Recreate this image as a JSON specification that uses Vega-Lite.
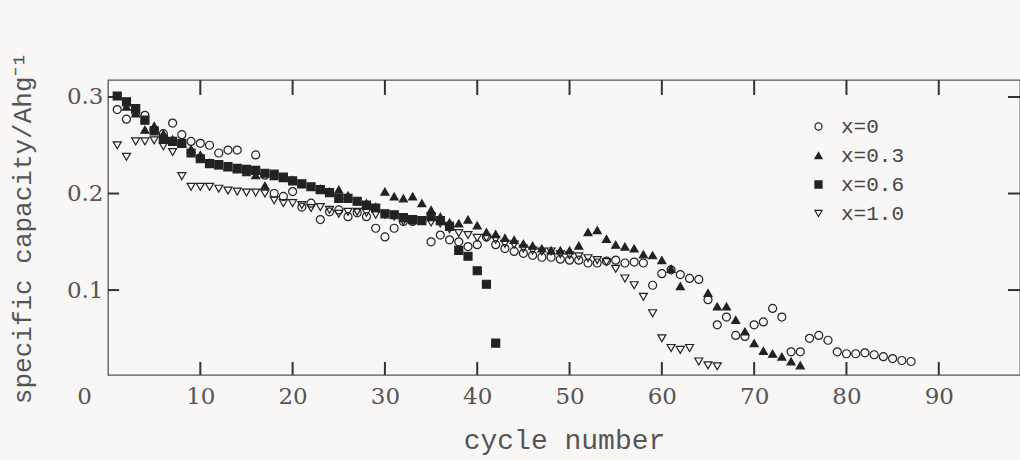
{
  "$schema": "https://vega.github.io/schema/vega-lite/v6.json",
  "width": 912,
  "height": 295,
  "autosize": "none",
  "padding": {"left": 108, "top": 80, "right": 0, "bottom": 85},
  "background": "#f8f7f5",
  "config": {
    "view": {"stroke": "#555", "strokeWidth": 1.3},
    "axis": {"grid": false, "domain": false, "ticks": false,
      "labelFlush": false,
      "labelFont": "DejaVu Serif", "labelFontSize": 23, "labelColor": "#555",
      "titleFont": "Liberation Mono", "titleFontWeight": "normal", "titleColor": "#555"}
  },
  "datasets": {
    "xticks": [{"cycle": 10}, {"cycle": 20}, {"cycle": 30}, {"cycle": 40}, {"cycle": 50}, {"cycle": 60}, {"cycle": 70}, {"cycle": 80}, {"cycle": 90}],
    "yticks": [{"cap": 0.1}, {"cap": 0.2}, {"cap": 0.3}],
    "points": [
    {"cycle": 1, "cap": 0.287, "series": "x=0"},
    {"cycle": 2, "cap": 0.277, "series": "x=0"},
    {"cycle": 3, "cap": 0.284, "series": "x=0"},
    {"cycle": 4, "cap": 0.281, "series": "x=0"},
    {"cycle": 5, "cap": 0.266, "series": "x=0"},
    {"cycle": 6, "cap": 0.262, "series": "x=0"},
    {"cycle": 7, "cap": 0.273, "series": "x=0"},
    {"cycle": 8, "cap": 0.261, "series": "x=0"},
    {"cycle": 9, "cap": 0.254, "series": "x=0"},
    {"cycle": 10, "cap": 0.252, "series": "x=0"},
    {"cycle": 11, "cap": 0.25, "series": "x=0"},
    {"cycle": 12, "cap": 0.242, "series": "x=0"},
    {"cycle": 13, "cap": 0.245, "series": "x=0"},
    {"cycle": 14, "cap": 0.245, "series": "x=0"},
    {"cycle": 16, "cap": 0.24, "series": "x=0"},
    {"cycle": 17, "cap": 0.219, "series": "x=0"},
    {"cycle": 18, "cap": 0.2, "series": "x=0"},
    {"cycle": 19, "cap": 0.197, "series": "x=0"},
    {"cycle": 20, "cap": 0.202, "series": "x=0"},
    {"cycle": 21, "cap": 0.186, "series": "x=0"},
    {"cycle": 22, "cap": 0.19, "series": "x=0"},
    {"cycle": 23, "cap": 0.173, "series": "x=0"},
    {"cycle": 24, "cap": 0.181, "series": "x=0"},
    {"cycle": 25, "cap": 0.183, "series": "x=0"},
    {"cycle": 26, "cap": 0.176, "series": "x=0"},
    {"cycle": 27, "cap": 0.18, "series": "x=0"},
    {"cycle": 28, "cap": 0.176, "series": "x=0"},
    {"cycle": 29, "cap": 0.164, "series": "x=0"},
    {"cycle": 30, "cap": 0.155, "series": "x=0"},
    {"cycle": 31, "cap": 0.164, "series": "x=0"},
    {"cycle": 32, "cap": 0.171, "series": "x=0"},
    {"cycle": 33, "cap": 0.171, "series": "x=0"},
    {"cycle": 35, "cap": 0.15, "series": "x=0"},
    {"cycle": 36, "cap": 0.157, "series": "x=0"},
    {"cycle": 37, "cap": 0.152, "series": "x=0"},
    {"cycle": 38, "cap": 0.15, "series": "x=0"},
    {"cycle": 39, "cap": 0.145, "series": "x=0"},
    {"cycle": 40, "cap": 0.147, "series": "x=0"},
    {"cycle": 41, "cap": 0.155, "series": "x=0"},
    {"cycle": 42, "cap": 0.147, "series": "x=0"},
    {"cycle": 43, "cap": 0.143, "series": "x=0"},
    {"cycle": 44, "cap": 0.14, "series": "x=0"},
    {"cycle": 45, "cap": 0.138, "series": "x=0"},
    {"cycle": 46, "cap": 0.136, "series": "x=0"},
    {"cycle": 47, "cap": 0.134, "series": "x=0"},
    {"cycle": 48, "cap": 0.134, "series": "x=0"},
    {"cycle": 49, "cap": 0.132, "series": "x=0"},
    {"cycle": 50, "cap": 0.131, "series": "x=0"},
    {"cycle": 51, "cap": 0.131, "series": "x=0"},
    {"cycle": 52, "cap": 0.128, "series": "x=0"},
    {"cycle": 53, "cap": 0.128, "series": "x=0"},
    {"cycle": 54, "cap": 0.13, "series": "x=0"},
    {"cycle": 55, "cap": 0.131, "series": "x=0"},
    {"cycle": 56, "cap": 0.128, "series": "x=0"},
    {"cycle": 57, "cap": 0.129, "series": "x=0"},
    {"cycle": 58, "cap": 0.128, "series": "x=0"},
    {"cycle": 59, "cap": 0.105, "series": "x=0"},
    {"cycle": 60, "cap": 0.117, "series": "x=0"},
    {"cycle": 61, "cap": 0.121, "series": "x=0"},
    {"cycle": 62, "cap": 0.116, "series": "x=0"},
    {"cycle": 63, "cap": 0.112, "series": "x=0"},
    {"cycle": 64, "cap": 0.111, "series": "x=0"},
    {"cycle": 65, "cap": 0.09, "series": "x=0"},
    {"cycle": 66, "cap": 0.064, "series": "x=0"},
    {"cycle": 67, "cap": 0.072, "series": "x=0"},
    {"cycle": 68, "cap": 0.053, "series": "x=0"},
    {"cycle": 69, "cap": 0.052, "series": "x=0"},
    {"cycle": 70, "cap": 0.064, "series": "x=0"},
    {"cycle": 71, "cap": 0.067, "series": "x=0"},
    {"cycle": 72, "cap": 0.081, "series": "x=0"},
    {"cycle": 73, "cap": 0.072, "series": "x=0"},
    {"cycle": 74, "cap": 0.036, "series": "x=0"},
    {"cycle": 75, "cap": 0.036, "series": "x=0"},
    {"cycle": 76, "cap": 0.05, "series": "x=0"},
    {"cycle": 77, "cap": 0.053, "series": "x=0"},
    {"cycle": 78, "cap": 0.048, "series": "x=0"},
    {"cycle": 79, "cap": 0.036, "series": "x=0"},
    {"cycle": 80, "cap": 0.034, "series": "x=0"},
    {"cycle": 81, "cap": 0.034, "series": "x=0"},
    {"cycle": 82, "cap": 0.035, "series": "x=0"},
    {"cycle": 83, "cap": 0.033, "series": "x=0"},
    {"cycle": 84, "cap": 0.031, "series": "x=0"},
    {"cycle": 85, "cap": 0.029, "series": "x=0"},
    {"cycle": 86, "cap": 0.027, "series": "x=0"},
    {"cycle": 87, "cap": 0.026, "series": "x=0"},
    {"cycle": 2, "cap": 0.29, "series": "x=0.3"},
    {"cycle": 3, "cap": 0.283, "series": "x=0.3"},
    {"cycle": 4, "cap": 0.266, "series": "x=0.3"},
    {"cycle": 5, "cap": 0.27, "series": "x=0.3"},
    {"cycle": 6, "cap": 0.262, "series": "x=0.3"},
    {"cycle": 7, "cap": 0.256, "series": "x=0.3"},
    {"cycle": 8, "cap": 0.252, "series": "x=0.3"},
    {"cycle": 9, "cap": 0.246, "series": "x=0.3"},
    {"cycle": 10, "cap": 0.24, "series": "x=0.3"},
    {"cycle": 11, "cap": 0.232, "series": "x=0.3"},
    {"cycle": 12, "cap": 0.229, "series": "x=0.3"},
    {"cycle": 13, "cap": 0.227, "series": "x=0.3"},
    {"cycle": 14, "cap": 0.225, "series": "x=0.3"},
    {"cycle": 15, "cap": 0.222, "series": "x=0.3"},
    {"cycle": 16, "cap": 0.219, "series": "x=0.3"},
    {"cycle": 17, "cap": 0.208, "series": "x=0.3"},
    {"cycle": 18, "cap": 0.218, "series": "x=0.3"},
    {"cycle": 19, "cap": 0.216, "series": "x=0.3"},
    {"cycle": 20, "cap": 0.214, "series": "x=0.3"},
    {"cycle": 21, "cap": 0.21, "series": "x=0.3"},
    {"cycle": 22, "cap": 0.207, "series": "x=0.3"},
    {"cycle": 23, "cap": 0.205, "series": "x=0.3"},
    {"cycle": 24, "cap": 0.202, "series": "x=0.3"},
    {"cycle": 25, "cap": 0.204, "series": "x=0.3"},
    {"cycle": 26, "cap": 0.198, "series": "x=0.3"},
    {"cycle": 27, "cap": 0.192, "series": "x=0.3"},
    {"cycle": 28, "cap": 0.19, "series": "x=0.3"},
    {"cycle": 29, "cap": 0.186, "series": "x=0.3"},
    {"cycle": 30, "cap": 0.202, "series": "x=0.3"},
    {"cycle": 31, "cap": 0.197, "series": "x=0.3"},
    {"cycle": 32, "cap": 0.195, "series": "x=0.3"},
    {"cycle": 33, "cap": 0.197, "series": "x=0.3"},
    {"cycle": 34, "cap": 0.19, "series": "x=0.3"},
    {"cycle": 35, "cap": 0.183, "series": "x=0.3"},
    {"cycle": 36, "cap": 0.176, "series": "x=0.3"},
    {"cycle": 37, "cap": 0.17, "series": "x=0.3"},
    {"cycle": 38, "cap": 0.169, "series": "x=0.3"},
    {"cycle": 39, "cap": 0.173, "series": "x=0.3"},
    {"cycle": 40, "cap": 0.167, "series": "x=0.3"},
    {"cycle": 41, "cap": 0.16, "series": "x=0.3"},
    {"cycle": 42, "cap": 0.158, "series": "x=0.3"},
    {"cycle": 43, "cap": 0.154, "series": "x=0.3"},
    {"cycle": 44, "cap": 0.152, "series": "x=0.3"},
    {"cycle": 45, "cap": 0.148, "series": "x=0.3"},
    {"cycle": 46, "cap": 0.146, "series": "x=0.3"},
    {"cycle": 47, "cap": 0.143, "series": "x=0.3"},
    {"cycle": 48, "cap": 0.141, "series": "x=0.3"},
    {"cycle": 49, "cap": 0.141, "series": "x=0.3"},
    {"cycle": 50, "cap": 0.141, "series": "x=0.3"},
    {"cycle": 51, "cap": 0.146, "series": "x=0.3"},
    {"cycle": 52, "cap": 0.16, "series": "x=0.3"},
    {"cycle": 53, "cap": 0.162, "series": "x=0.3"},
    {"cycle": 54, "cap": 0.153, "series": "x=0.3"},
    {"cycle": 55, "cap": 0.147, "series": "x=0.3"},
    {"cycle": 56, "cap": 0.145, "series": "x=0.3"},
    {"cycle": 57, "cap": 0.143, "series": "x=0.3"},
    {"cycle": 58, "cap": 0.137, "series": "x=0.3"},
    {"cycle": 59, "cap": 0.136, "series": "x=0.3"},
    {"cycle": 60, "cap": 0.131, "series": "x=0.3"},
    {"cycle": 61, "cap": 0.122, "series": "x=0.3"},
    {"cycle": 62, "cap": 0.104, "series": "x=0.3"},
    {"cycle": 65, "cap": 0.097, "series": "x=0.3"},
    {"cycle": 66, "cap": 0.083, "series": "x=0.3"},
    {"cycle": 67, "cap": 0.083, "series": "x=0.3"},
    {"cycle": 68, "cap": 0.069, "series": "x=0.3"},
    {"cycle": 69, "cap": 0.057, "series": "x=0.3"},
    {"cycle": 70, "cap": 0.045, "series": "x=0.3"},
    {"cycle": 71, "cap": 0.037, "series": "x=0.3"},
    {"cycle": 72, "cap": 0.034, "series": "x=0.3"},
    {"cycle": 73, "cap": 0.031, "series": "x=0.3"},
    {"cycle": 74, "cap": 0.026, "series": "x=0.3"},
    {"cycle": 75, "cap": 0.022, "series": "x=0.3"},
    {"cycle": 1, "cap": 0.301, "series": "x=0.6"},
    {"cycle": 2, "cap": 0.295, "series": "x=0.6"},
    {"cycle": 3, "cap": 0.288, "series": "x=0.6"},
    {"cycle": 4, "cap": 0.276, "series": "x=0.6"},
    {"cycle": 5, "cap": 0.265, "series": "x=0.6"},
    {"cycle": 6, "cap": 0.256, "series": "x=0.6"},
    {"cycle": 7, "cap": 0.254, "series": "x=0.6"},
    {"cycle": 8, "cap": 0.252, "series": "x=0.6"},
    {"cycle": 9, "cap": 0.242, "series": "x=0.6"},
    {"cycle": 10, "cap": 0.236, "series": "x=0.6"},
    {"cycle": 11, "cap": 0.231, "series": "x=0.6"},
    {"cycle": 12, "cap": 0.23, "series": "x=0.6"},
    {"cycle": 13, "cap": 0.228, "series": "x=0.6"},
    {"cycle": 14, "cap": 0.226, "series": "x=0.6"},
    {"cycle": 15, "cap": 0.225, "series": "x=0.6"},
    {"cycle": 16, "cap": 0.224, "series": "x=0.6"},
    {"cycle": 17, "cap": 0.221, "series": "x=0.6"},
    {"cycle": 18, "cap": 0.22, "series": "x=0.6"},
    {"cycle": 19, "cap": 0.217, "series": "x=0.6"},
    {"cycle": 20, "cap": 0.213, "series": "x=0.6"},
    {"cycle": 21, "cap": 0.21, "series": "x=0.6"},
    {"cycle": 22, "cap": 0.207, "series": "x=0.6"},
    {"cycle": 23, "cap": 0.204, "series": "x=0.6"},
    {"cycle": 24, "cap": 0.201, "series": "x=0.6"},
    {"cycle": 25, "cap": 0.195, "series": "x=0.6"},
    {"cycle": 26, "cap": 0.195, "series": "x=0.6"},
    {"cycle": 27, "cap": 0.192, "series": "x=0.6"},
    {"cycle": 28, "cap": 0.188, "series": "x=0.6"},
    {"cycle": 29, "cap": 0.185, "series": "x=0.6"},
    {"cycle": 30, "cap": 0.179, "series": "x=0.6"},
    {"cycle": 31, "cap": 0.178, "series": "x=0.6"},
    {"cycle": 32, "cap": 0.175, "series": "x=0.6"},
    {"cycle": 33, "cap": 0.173, "series": "x=0.6"},
    {"cycle": 34, "cap": 0.172, "series": "x=0.6"},
    {"cycle": 35, "cap": 0.176, "series": "x=0.6"},
    {"cycle": 36, "cap": 0.172, "series": "x=0.6"},
    {"cycle": 37, "cap": 0.166, "series": "x=0.6"},
    {"cycle": 38, "cap": 0.141, "series": "x=0.6"},
    {"cycle": 39, "cap": 0.135, "series": "x=0.6"},
    {"cycle": 40, "cap": 0.12, "series": "x=0.6"},
    {"cycle": 41, "cap": 0.106, "series": "x=0.6"},
    {"cycle": 42, "cap": 0.045, "series": "x=0.6"},
    {"cycle": 1, "cap": 0.25, "series": "x=1.0"},
    {"cycle": 2, "cap": 0.238, "series": "x=1.0"},
    {"cycle": 3, "cap": 0.254, "series": "x=1.0"},
    {"cycle": 4, "cap": 0.254, "series": "x=1.0"},
    {"cycle": 5, "cap": 0.255, "series": "x=1.0"},
    {"cycle": 6, "cap": 0.249, "series": "x=1.0"},
    {"cycle": 7, "cap": 0.243, "series": "x=1.0"},
    {"cycle": 8, "cap": 0.218, "series": "x=1.0"},
    {"cycle": 9, "cap": 0.207, "series": "x=1.0"},
    {"cycle": 10, "cap": 0.207, "series": "x=1.0"},
    {"cycle": 11, "cap": 0.207, "series": "x=1.0"},
    {"cycle": 12, "cap": 0.205, "series": "x=1.0"},
    {"cycle": 13, "cap": 0.203, "series": "x=1.0"},
    {"cycle": 14, "cap": 0.202, "series": "x=1.0"},
    {"cycle": 15, "cap": 0.201, "series": "x=1.0"},
    {"cycle": 16, "cap": 0.201, "series": "x=1.0"},
    {"cycle": 17, "cap": 0.2, "series": "x=1.0"},
    {"cycle": 18, "cap": 0.193, "series": "x=1.0"},
    {"cycle": 19, "cap": 0.19, "series": "x=1.0"},
    {"cycle": 20, "cap": 0.19, "series": "x=1.0"},
    {"cycle": 21, "cap": 0.188, "series": "x=1.0"},
    {"cycle": 22, "cap": 0.185, "series": "x=1.0"},
    {"cycle": 23, "cap": 0.186, "series": "x=1.0"},
    {"cycle": 24, "cap": 0.183, "series": "x=1.0"},
    {"cycle": 25, "cap": 0.179, "series": "x=1.0"},
    {"cycle": 26, "cap": 0.181, "series": "x=1.0"},
    {"cycle": 27, "cap": 0.181, "series": "x=1.0"},
    {"cycle": 28, "cap": 0.18, "series": "x=1.0"},
    {"cycle": 29, "cap": 0.178, "series": "x=1.0"},
    {"cycle": 30, "cap": 0.178, "series": "x=1.0"},
    {"cycle": 31, "cap": 0.176, "series": "x=1.0"},
    {"cycle": 32, "cap": 0.171, "series": "x=1.0"},
    {"cycle": 33, "cap": 0.171, "series": "x=1.0"},
    {"cycle": 34, "cap": 0.172, "series": "x=1.0"},
    {"cycle": 35, "cap": 0.17, "series": "x=1.0"},
    {"cycle": 36, "cap": 0.169, "series": "x=1.0"},
    {"cycle": 37, "cap": 0.163, "series": "x=1.0"},
    {"cycle": 38, "cap": 0.159, "series": "x=1.0"},
    {"cycle": 39, "cap": 0.157, "series": "x=1.0"},
    {"cycle": 40, "cap": 0.154, "series": "x=1.0"},
    {"cycle": 41, "cap": 0.154, "series": "x=1.0"},
    {"cycle": 42, "cap": 0.152, "series": "x=1.0"},
    {"cycle": 43, "cap": 0.148, "series": "x=1.0"},
    {"cycle": 44, "cap": 0.147, "series": "x=1.0"},
    {"cycle": 45, "cap": 0.143, "series": "x=1.0"},
    {"cycle": 46, "cap": 0.141, "series": "x=1.0"},
    {"cycle": 47, "cap": 0.14, "series": "x=1.0"},
    {"cycle": 48, "cap": 0.14, "series": "x=1.0"},
    {"cycle": 49, "cap": 0.137, "series": "x=1.0"},
    {"cycle": 50, "cap": 0.136, "series": "x=1.0"},
    {"cycle": 51, "cap": 0.135, "series": "x=1.0"},
    {"cycle": 52, "cap": 0.133, "series": "x=1.0"},
    {"cycle": 53, "cap": 0.131, "series": "x=1.0"},
    {"cycle": 54, "cap": 0.129, "series": "x=1.0"},
    {"cycle": 55, "cap": 0.122, "series": "x=1.0"},
    {"cycle": 56, "cap": 0.112, "series": "x=1.0"},
    {"cycle": 57, "cap": 0.105, "series": "x=1.0"},
    {"cycle": 58, "cap": 0.093, "series": "x=1.0"},
    {"cycle": 59, "cap": 0.076, "series": "x=1.0"},
    {"cycle": 60, "cap": 0.05, "series": "x=1.0"},
    {"cycle": 61, "cap": 0.04, "series": "x=1.0"},
    {"cycle": 62, "cap": 0.038, "series": "x=1.0"},
    {"cycle": 63, "cap": 0.04, "series": "x=1.0"},
    {"cycle": 64, "cap": 0.026, "series": "x=1.0"},
    {"cycle": 65, "cap": 0.022, "series": "x=1.0"},
    {"cycle": 66, "cap": 0.021, "series": "x=1.0"}
    ]
  },
  "layer": [
    {
      "data": {"name": "xticks"},
      "mark": {"type": "rule", "stroke": "#333", "strokeWidth": 2},
      "encoding": {
        "x": {"field": "cycle", "type": "quantitative", "scale": {"domain": [0, 98.8], "nice": false, "zero": false}},
        "y": {"datum": 0.012, "scale": {"domain": [0.012, 0.3176], "nice": false, "zero": false}},
        "y2": {"datum": 0.0255}
      }
    },
    {
      "data": {"name": "xticks"},
      "mark": {"type": "rule", "stroke": "#333", "strokeWidth": 2},
      "encoding": {
        "x": {"field": "cycle", "type": "quantitative"},
        "y": {"datum": 0.3176},
        "y2": {"datum": 0.3021}
      }
    },
    {
      "data": {"name": "yticks"},
      "mark": {"type": "rule", "stroke": "#333", "strokeWidth": 2},
      "encoding": {
        "y": {"field": "cap", "type": "quantitative"},
        "x": {"datum": 0},
        "x2": {"datum": 1.2}
      }
    },
    {
      "data": {"name": "yticks"},
      "mark": {"type": "rule", "stroke": "#333", "strokeWidth": 2},
      "encoding": {
        "y": {"field": "cap", "type": "quantitative"},
        "x": {"datum": 98.8},
        "x2": {"datum": 97.5}
      }
    },
    {
      "data": {"name": "points"},
      "mark": {"type": "point", "size": 64, "strokeWidth": 1.2, "stroke": "#222", "opacity": 1},
      "encoding": {
        "x": {"field": "cycle", "type": "quantitative",
          "scale": {"domain": [0, 98.8], "nice": false, "zero": false},
          "axis": {"values": [0, 10, 20, 30, 40, 50, 60, 70, 80, 90], "labelPadding": 10,
            "labelOffset": {"condition": {"test": "datum.value === 0", "value": -24}, "value": 0},
            "title": "cycle number", "titleFontSize": 28, "titlePadding": 18}},
        "y": {"field": "cap", "type": "quantitative",
          "scale": {"domain": [0.012, 0.3176], "nice": false, "zero": false},
          "axis": {"values": [0.1, 0.2, 0.3], "format": ".1f", "labelPadding": 5,
            "title": "specific capacity/Ahg⁻¹", "titleFontSize": 26, "titlePadding": 31}},
        "shape": {"field": "series", "type": "nominal",
          "scale": {"domain": ["x=0", "x=0.3", "x=0.6", "x=1.0"], "range": ["circle", "triangle-up", "square", "triangle-down"]},
          "legend": {"title": null, "orient": "none", "legendX": 700, "legendY": 36,
            "labelFont": "Liberation Mono", "labelFontSize": 21, "labelColor": "#444",
            "symbolSize": 50, "rowPadding": 7, "labelOffset": 12, "symbolStrokeWidth": 1.2}},
        "fill": {"field": "series", "type": "nominal",
          "scale": {"domain": ["x=0", "x=0.3", "x=0.6", "x=1.0"], "range": ["transparent", "#222", "#222", "transparent"]},
          "legend": {"title": null, "orient": "none", "legendX": 700, "legendY": 36,
            "labelFont": "Liberation Mono", "labelFontSize": 21, "labelColor": "#444",
            "symbolSize": 50, "rowPadding": 7, "labelOffset": 12, "symbolStrokeWidth": 1.2}}
      }
    }
  ]
}
